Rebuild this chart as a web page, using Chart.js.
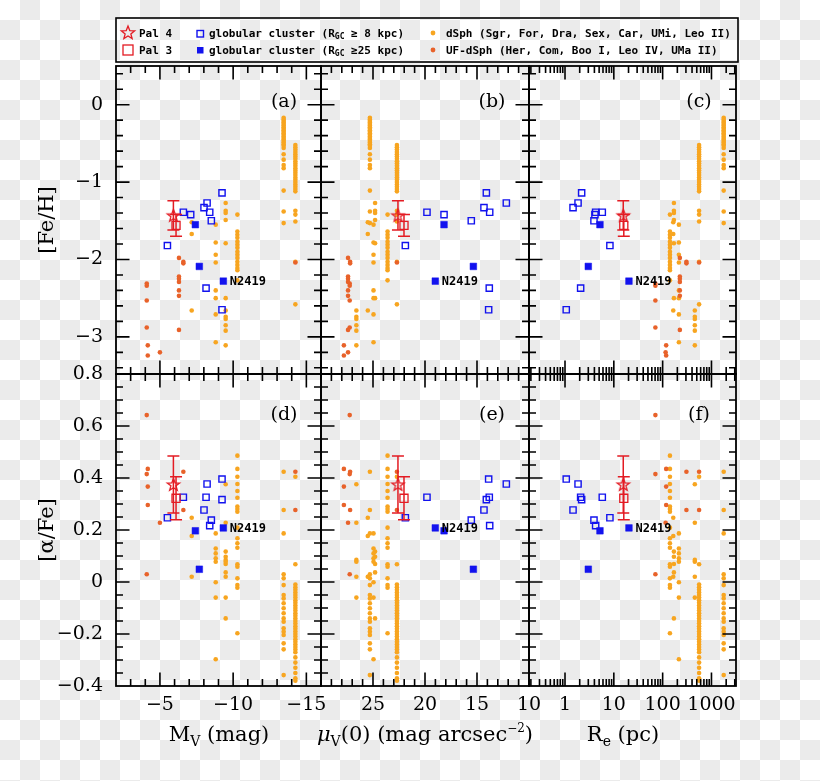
<!DOCTYPE html>
<html><head><meta charset="utf-8">
<script src="https://cdn.jsdelivr.net/npm/chart.js@4.4.0/dist/chart.umd.min.js"></script>
<style>
html,body{margin:0;padding:0;}
body{width:820px;height:781px;overflow:hidden;background:repeating-conic-gradient(#ebebeb 0% 25%, #ffffff 0% 50%) 0 0/40px 40px;}
#wrap{position:relative;width:820px;height:781px;}
canvas{position:absolute;left:0;top:0;}
</style></head><body><div id="wrap">
<canvas id="pa" width="820" height="781"></canvas>
<canvas id="pb" width="820" height="781"></canvas>
<canvas id="pc" width="820" height="781"></canvas>
<canvas id="pd" width="820" height="781"></canvas>
<canvas id="pe" width="820" height="781"></canvas>
<canvas id="pf" width="820" height="781"></canvas>
</div>
<script>
// ---------------- DATA ----------------
// dSph galaxies: one x position per galaxy, many stars per galaxy
const dsphNames = ['Sgr', 'For', 'Leo II', 'Car', 'Sex', 'Dra', 'UMi'];
const dsphMv = [-13.45, -14.25, -10.29, -9.49, -9.49, -8.81, -7.17];
const dsphMu = [25.3, 22.7, 23.6, 24.8, 26.6, 24.95, 25.5];
const dsphRe = [1780, 558, 141, 170, 456, 215, 165];
const dsphFeH = [
  [-0.17,-0.19,-0.21,-0.23,-0.25,-0.27,-0.29,-0.31,-0.33,-0.35,-0.37,-0.39,-0.41,-0.43,-0.45,-0.47,-0.49,-0.51,-0.53,-0.56,-0.64,-0.71,-0.78,-0.82,-1.11,-1.38,-1.53],
  [-0.52,-0.55,-0.58,-0.61,-0.64,-0.67,-0.70,-0.73,-0.76,-0.79,-0.82,-0.85,-0.88,-0.91,-0.94,-0.97,-1.00,-1.03,-1.06,-1.09,-1.12,-1.37,-1.42,-1.51,-2.03,-2.58],
  [-1.42,-1.64,-1.68,-1.72,-1.77,-1.81,-1.85,-1.90,-1.94,-1.98,-2.03,-2.07,-2.11,-2.14,-2.27],
  [-1.27,-1.37,-1.40,-1.49,-1.79,-2.50],
  [-2.66,-2.74,-2.77,-2.85,-2.92,-3.11],
  [-1.55,-1.78,-1.94,-2.04,-2.40,-2.50,-2.71,-3.07],
  [-1.52,-1.67,-2.66]
];
const dsphAlpha = [
  [0.424,0.277,0.187,0.030,0.014,-0.012,-0.050,-0.063,-0.082,-0.101,-0.120,-0.140,-0.153,-0.178,-0.191,-0.204,-0.236,-0.259,-0.358],
  [0.405,0.068,-0.01,-0.02,-0.03,-0.04,-0.05,-0.06,-0.07,-0.08,-0.09,-0.10,-0.11,-0.12,-0.13,-0.14,-0.15,-0.16,-0.17,-0.18,-0.19,-0.20,-0.21,-0.22,-0.23,-0.24,-0.25,-0.26,-0.27,-0.29,-0.31,-0.33,-0.35,-0.37,-0.38],
  [0.486,0.435,0.405,0.377,0.350,0.324,0.290,0.281,0.270,0.209,0.168,0.149,0.132,0.068,0.059,0.014,-0.012,-0.022,-0.197],
  [0.117,0.097,0.069,0.037,-0.140],
  [0.376,0.228,0.085,0.078,0.020,-0.060],
  [0.187,0.129,0.110,0.091,0.078,-0.001,-0.060,-0.297],
  [0.247,0.177,0.020]
];
// ultra-faint dSph
const ufNames = ['Com', 'UMa II', 'Leo IV', 'Boo I', 'Her', 'UF-6'];
const ufMv = [-4.10, -4.17, -5.0, -6.30, -6.60, -14.25];
const ufMu = [27.24, 27.8, 27.4, 27.4, 27.2, 22.7];
const ufRe = [71, 118, 115, 225, 307, 558];
const ufFeH = [
  [-2.31,-2.34,-2.53,-2.88],
  [-3.11,-3.24],
  [-3.20],
  [-1.98,-2.22,-2.25,-2.29,-2.40,-2.47,-2.91],
  [-2.03,-2.05],
  [-2.04]
];
const ufAlpha = [
  [0.642,0.415,0.030],
  [0.435,0.367,0.296],
  [0.228],
  [],
  [0.424,0.277],
  [0.424,0.277]
];
// globular clusters R_GC >= 8 kpc (open squares)
const gcOpenMv = [-5.51,-6.60,-7.10,-8.01,-8.22,-8.40,-8.51,-9.24,-8.15,-9.24];
const gcOpenMu = [21.89,19.81,18.17,14.33,12.18,13.78,15.55,14.10,13.82,13.88];
const gcOpenRe = [8.31,5.80,4.10,1.46,1.85,4.24,3.92,2.19,2.09,1.06];
const gcOpenFeH = [-1.82,-1.39,-1.42,-1.33,-1.27,-1.39,-1.50,-1.14,-2.37,-2.65];
const gcOpenAlpha = [0.247,0.326,null,0.277,0.377,0.217,0.238,0.317,0.326,0.396];
// globular clusters R_GC >= 25 kpc (filled squares)
const gcFarNames = ['', '', 'N2419'];
const gcFarMv = [-7.42,-7.69,-9.33];
const gcFarMu = [18.17,15.35,19.01];
const gcFarRe = [5.20,3.00,20.4];
const gcFarFeH = [-1.55,-2.09,-2.28];
const gcFarAlpha = [0.197,0.049,0.208];
// Pal 4 and Pal 3
const palNames = ['Pal 4', 'Pal 3'];
const palMv = [-5.92, -6.10];
const palMu = [22.6, 22.02];
const palRe = [15.6, 16.0];
const palFeH = [-1.43, -1.56];
const palFeHErr = [0.19, 0.14];
const palAlpha = [0.375, 0.322];
const palAlphaErr = [0.11, 0.083];
// tick labels
const mvTickLabels = [-5, -10, -15];
const muTickLabels = [25, 20, 15, 10];
const reTickLabels = [1, 10, 100, 1000];
const fehTickLabels = [0, -1, -2, -3];
const alphaTickLabels = [0.8, 0.6, 0.4, 0.2, 0, -0.2, -0.4];

// ---------------- STYLE / LAYOUT ----------------
const RED = '#E31B23', BLUE = '#1212EE', ORANGE = '#F7A520', UFC = '#E8622A';
const colL = [116, 321, 529], colR = [321, 529, 736], rowT = [66, 374], rowB = [374, 686];
const Y_AXIS_W = 116, X_AXIS_H = 95;
function seq(a, b, s) { const o = []; for (let v = a; v <= b + 1e-9; v += s) o.push(Math.round(v * 1000) / 1000); return o; }
const AX = {
  mv: { scale: {type:'linear', min:-16, max:-2, reverse:true}, labels: mvTickLabels, major: [-5,-10,-15], minor: seq(-16,-2,1) },
  mu: { scale: {type:'linear', min:10, max:30, reverse:true}, labels: muTickLabels, major: [30,25,20,15,10], minor: seq(10,30,1) },
  re: { scale: {type:'logarithmic', min:0.183, max:3180}, labels: reTickLabels, major: [1,10,100,1000],
        minor: [0.2,0.3,0.4,0.5,0.6,0.7,0.8,0.9,2,3,4,5,6,7,8,9,20,30,40,50,60,70,80,90,200,300,400,500,600,700,800,900,2000,3000] },
  feh: { scale: {type:'linear', min:-3.48, max:0.5}, labels: fehTickLabels, major: [0,-1,-2,-3], minor: seq(-3.4,0.4,0.2), title:'[Fe/H]' },
  alpha: { scale: {type:'linear', min:-0.4, max:0.8}, labels: alphaTickLabels, major: seq(-0.4,0.8,0.2), minor: seq(-0.4,0.8,0.05), title:'[\u03B1/Fe]' }
};
const PANELS = [
  {id:'pa', row:0, col:0, x:'mv', y:'feh', letter:'(a)'},
  {id:'pb', row:0, col:1, x:'mu', y:'feh', letter:'(b)'},
  {id:'pc', row:0, col:2, x:'re', y:'feh', letter:'(c)'},
  {id:'pd', row:1, col:0, x:'mv', y:'alpha', letter:'(d)'},
  {id:'pe', row:1, col:1, x:'mu', y:'alpha', letter:'(e)'},
  {id:'pf', row:1, col:2, x:'re', y:'alpha', letter:'(f)'}
];
function fmt(v) { if (Math.abs(v) < 1e-9) return '0'; return String(+(+v).toFixed(2)).replace('-', '\u2212'); }

function starCanvas(ro, ri, lw) {
  const s = Math.ceil(ro * 2 + 4), c = document.createElement('canvas');
  c.width = s; c.height = s;
  const g = c.getContext('2d');
  g.strokeStyle = RED; g.lineWidth = lw; g.lineJoin = 'miter';
  drawStarPath(g, s / 2, s / 2 + 0.5, ro, ri); g.stroke();
  return c;
}
function drawStarPath(g, cx, cy, ro, ri) {
  g.beginPath();
  for (let k = 0; k < 10; k++) {
    const r = k % 2 ? ri : ro, a = -Math.PI / 2 + k * Math.PI / 5;
    g.lineTo(cx + r * Math.cos(a), cy + r * Math.sin(a));
  }
  g.closePath();
}
const STAR = starCanvas(6.5, 2.7, 1.3);

function xsOf(key, mv, mu, re) { return key === 'mv' ? mv : key === 'mu' ? mu : re; }

function buildData(P) {
  const dX = xsOf(P.x, dsphMv, dsphMu, dsphRe), uX = xsOf(P.x, ufMv, ufMu, ufRe);
  const oX = xsOf(P.x, gcOpenMv, gcOpenMu, gcOpenRe), fX = xsOf(P.x, gcFarMv, gcFarMu, gcFarRe);
  const pX = xsOf(P.x, palMv, palMu, palRe);
  const dY = P.y === 'feh' ? dsphFeH : dsphAlpha, uY = P.y === 'feh' ? ufFeH : ufAlpha;
  const oY = P.y === 'feh' ? gcOpenFeH : gcOpenAlpha, fY = P.y === 'feh' ? gcFarFeH : gcFarAlpha;
  const pY = P.y === 'feh' ? palFeH : palAlpha;
  const dPts = [], uPts = [], oPts = [], fPts = [];
  dY.forEach((arr, g) => arr.forEach(v => dPts.push({x: dX[g], y: v})));
  uY.forEach((arr, g) => arr.forEach(v => uPts.push({x: uX[g], y: v})));
  oY.forEach((v, i) => { if (v !== null) oPts.push({x: oX[i], y: v}); });
  fY.forEach((v, i) => fPts.push({x: fX[i], y: v}));
  return [
    {label:'Pal 4', data:[{x:pX[0], y:pY[0]}], pointStyle: STAR, pointRadius: 7},
    {label:'Pal 3', data:[{x:pX[1], y:pY[1]}], pointStyle:'rect', pointRadius:5.7, borderColor:RED, backgroundColor:'rgba(0,0,0,0)', borderWidth:1.3},
    {label:'globular cluster (R_GC \u226525 kpc)', data:fPts, pointStyle:'rect', pointRadius:4.7, borderColor:BLUE, backgroundColor:BLUE, borderWidth:0.5},
    {label:'globular cluster (R_GC \u2265 8 kpc)', data:oPts, pointStyle:'rect', pointRadius:4.4, borderColor:BLUE, backgroundColor:'rgba(0,0,0,0)', borderWidth:1.4},
    {label:'UF-dSph', data:uPts, pointStyle:'circle', pointRadius:2.3, borderColor:UFC, backgroundColor:UFC, borderWidth:0},
    {label:'dSph', data:dPts, pointStyle:'circle', pointRadius:2.3, borderColor:ORANGE, backgroundColor:ORANGE, borderWidth:0}
  ];
}

function drawRich(ctx, parts, x, y, align) {
  let w = 0;
  parts.forEach(p => { ctx.font = p.f; p.w = ctx.measureText(p.t).width; w += p.w; });
  let cx = align === 'center' ? x - w / 2 : x;
  ctx.textAlign = 'left';
  parts.forEach(p => { ctx.font = p.f; ctx.fillText(p.t, cx, y + (p.dy || 0)); cx += p.w; });
}

function drawGlobal(ctx) {
  ctx.save();
  // legend box
  ctx.strokeStyle = '#000'; ctx.lineWidth = 1.6;
  ctx.strokeRect(116, 18, 622, 44);
  const F = 'bold 11px "DejaVu Sans Mono"', FS = 'bold 8px "DejaVu Sans Mono"';
  ctx.fillStyle = '#000'; ctx.textBaseline = 'middle';
  // row 1
  ctx.strokeStyle = RED; ctx.lineWidth = 1.3; drawStarPath(ctx, 128, 33, 7, 3); ctx.stroke();
  drawRich(ctx, [{t:'Pal 4', f:F}], 139, 34, 'left');
  ctx.strokeStyle = BLUE; ctx.lineWidth = 1.4; ctx.strokeRect(197, 30.5, 6.5, 6.5);
  drawRich(ctx, [{t:'globular cluster (R', f:F}, {t:'GC', f:FS, dy:3}, {t:' \u2265 8 kpc)', f:F}], 209, 34, 'left');
  ctx.fillStyle = ORANGE; ctx.beginPath(); ctx.arc(433, 33, 2.4, 0, Math.PI * 2); ctx.fill();
  ctx.fillStyle = '#000';
  drawRich(ctx, [{t:'dSph (Sgr, For, Dra, Sex, Car, UMi, Leo II)', f:F}], 446, 34, 'left');
  // row 2
  ctx.strokeStyle = RED; ctx.lineWidth = 1.3; ctx.strokeRect(123, 45, 10, 10);
  drawRich(ctx, [{t:'Pal 3', f:F}], 139, 51, 'left');
  ctx.fillStyle = BLUE; ctx.fillRect(197, 47, 6.5, 6.5);
  ctx.fillStyle = '#000';
  drawRich(ctx, [{t:'globular cluster (R', f:F}, {t:'GC', f:FS, dy:3}, {t:' \u226525 kpc)', f:F}], 209, 51, 'left');
  ctx.fillStyle = UFC; ctx.beginPath(); ctx.arc(433, 50, 2.4, 0, Math.PI * 2); ctx.fill();
  ctx.fillStyle = '#000';
  drawRich(ctx, [{t:'UF-dSph (Her, Com, Boo I, Leo IV, UMa II)', f:F}], 446, 51, 'left');
  // x axis titles
  ctx.textBaseline = 'alphabetic';
  const T = '21px "DejaVu Serif"', TS = '14px "DejaVu Serif"', TI = 'italic 21px "DejaVu Serif"', TP = '12px "DejaVu Serif"';
  drawRich(ctx, [{t:'M', f:T}, {t:'V', f:TS, dy:5}, {t:' (mag)', f:T}], 219, 741, 'center');
  drawRich(ctx, [{t:'\u03BC', f:TI}, {t:'V', f:TS, dy:5}, {t:'(0) (mag arcsec', f:T}, {t:'\u2212', f:TP, dy:-9}, {t:'2', f:TP, dy:-9}, {t:')', f:T}], 425, 741, 'center');
  drawRich(ctx, [{t:'R', f:T}, {t:'e', f:TS, dy:5}, {t:' (pc)', f:T}], 623, 741, 'center');
  ctx.restore();
}

const panelPlugin = {
  id: 'panelDeco',
  afterDatasetsDraw(chart) {
    const P = chart.$panel, ctx = chart.ctx;
    const xs = chart.scales.x, ys = chart.scales.y;
    ctx.save();
    // error bars for Pal 4 / Pal 3
    const pX = xsOf(P.x, palMv, palMu, palRe);
    const pY = P.y === 'feh' ? palFeH : palAlpha, pE = P.y === 'feh' ? palFeHErr : palAlphaErr;
    ctx.strokeStyle = RED; ctx.lineWidth = 1.5;
    for (let i = 0; i < 2; i++) {
      const px = xs.getPixelForValue(pX[i]);
      const y1 = ys.getPixelForValue(pY[i] + pE[i]), y2 = ys.getPixelForValue(pY[i] - pE[i]);
      ctx.beginPath();
      ctx.moveTo(px, y1); ctx.lineTo(px, y2);
      ctx.moveTo(px - 6, y1); ctx.lineTo(px + 6, y1);
      ctx.moveTo(px - 6, y2); ctx.lineTo(px + 6, y2);
      ctx.stroke();
    }
    // N2419 label
    const fX = xsOf(P.x, gcFarMv, gcFarMu, gcFarRe), fY = P.y === 'feh' ? gcFarFeH : gcFarAlpha;
    ctx.fillStyle = '#000'; ctx.font = 'bold 12px "DejaVu Sans Mono"'; ctx.textBaseline = 'middle'; ctx.textAlign = 'left';
    gcFarNames.forEach((n, i) => { if (n) ctx.fillText(n, xs.getPixelForValue(fX[i]) + 6.5, ys.getPixelForValue(fY[i]) + 1); });
    ctx.restore();
  },
  afterDraw(chart) {
    const P = chart.$panel, ctx = chart.ctx;
    const {left, right, top, bottom} = chart.chartArea;
    const xs = chart.scales.x, ys = chart.scales.y;
    const ax = AX[P.x], ay = AX[P.y];
    ctx.save();
    ctx.strokeStyle = '#000'; ctx.lineWidth = 1.8;
    ctx.strokeRect(left, top, right - left, bottom - top);
    ctx.lineWidth = 1.6;
    ctx.beginPath();
    const tickX = (vals, len) => vals.forEach(v => {
      const px = xs.getPixelForValue(v);
      if (px <= left + 1 || px >= right - 1) return;
      ctx.moveTo(px, bottom); ctx.lineTo(px, bottom - len);
      ctx.moveTo(px, top); ctx.lineTo(px, top + len);
    });
    const tickY = (vals, len) => vals.forEach(v => {
      const py = ys.getPixelForValue(v);
      if (py <= top + 1 || py >= bottom - 1) return;
      ctx.moveTo(left, py); ctx.lineTo(left + len, py);
      ctx.moveTo(right, py); ctx.lineTo(right - len, py);
    });
    tickX(ax.minor, 7); tickX(ax.major, 13.5);
    tickY(ay.minor, 7); tickY(ay.major, 13.5);
    ctx.stroke();
    // panel letter
    ctx.fillStyle = '#000'; ctx.font = '19px "DejaVu Serif"'; ctx.textAlign = 'center'; ctx.textBaseline = 'middle';
    ctx.fillText(P.letter, right - 37, top + (P.row ? 41 : 36));
    ctx.restore();
    if (P.id === 'pa') drawGlobal(ctx);
  }
};

PANELS.forEach(P => {
  const ax = AX[P.x], ay = AX[P.y];
  const tickFont = {family: 'DejaVu Serif', size: 19};
  const xScale = Object.assign({}, ax.scale, {
    display: P.row === 1, position: 'bottom',
    grid: {display: false, drawTicks: false}, border: {display: false},
    ticks: {autoSkip: false, maxRotation: 0, minRotation: 0, padding: 8, color: '#000', font: tickFont, callback: v => fmt(v)},
    afterBuildTicks: s => { s.ticks = ax.labels.map(v => ({value: v})); },
    afterFit: s => { if (P.row === 1) s.height = X_AXIS_H; }
  });
  const yScale = Object.assign({}, ay.scale, {
    display: P.col === 0, position: 'left',
    grid: {display: false, drawTicks: false}, border: {display: false},
    ticks: {autoSkip: false, padding: 13, color: '#000', font: tickFont, callback: v => fmt(v)},
    title: {display: true, text: ay.title, color: '#000', font: {family: 'DejaVu Serif', size: 21}, padding: {top: 35, bottom: 0}},
    afterBuildTicks: s => { s.ticks = ay.labels.map(v => ({value: v})); },
    afterFit: s => { if (P.col === 0) s.width = Y_AXIS_W; }
  });
  const chart = new Chart(document.getElementById(P.id), {
    type: 'scatter',
    data: {datasets: buildData(P)},
    options: {
      responsive: false, animation: false, events: [],
      layout: {padding: {
        left: P.col === 0 ? colL[0] - Y_AXIS_W : colL[P.col],
        right: 820 - colR[P.col],
        top: rowT[P.row],
        bottom: P.row === 1 ? 781 - rowB[1] - X_AXIS_H : 781 - rowB[P.row]
      }},
      scales: {x: xScale, y: yScale},
      plugins: {legend: {display: false}, tooltip: {enabled: false}}
    },
    plugins: [{id: 'setPanel', beforeInit(c) { c.$panel = P; }}, panelPlugin]
  });
});
</script>
</body></html>
